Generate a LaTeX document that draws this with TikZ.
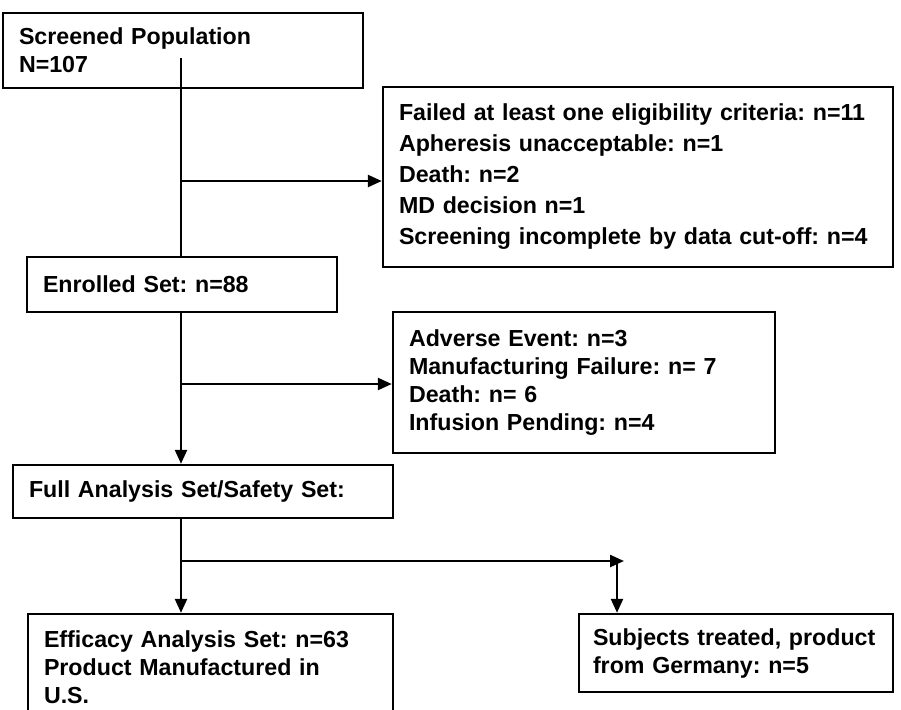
\documentclass[tikz,border=0pt]{standalone}
\usepackage{fontspec}
\setmainfont{Liberation Sans}
\usetikzlibrary{arrows.meta}
\frenchspacing
\tikzset{
  flowbox/.style={draw, line width=1.2pt, inner xsep=8pt, inner ysep=0pt, align=left,
    font=\bfseries\fontsize{11.6}{14}\selectfont},
  flowline/.style={line width=1.2pt},
  flowarrow/.style={line width=1.2pt, -{Triangle[length=7pt,width=6pt]}},
}
\begin{document}
\begin{tikzpicture}[x=0.5pt, y=-0.5pt]
  \useasboundingbox (0,0) rectangle (901,709);
  \clip (0,0) rectangle (901,709);
  % boxes
  \node[flowbox, minimum width=180pt, minimum height=37.5pt, text width=164pt] (scr) at (183,50.5)
    {Screened Population\\N=107};
  \node[flowbox, minimum width=255pt, minimum height=90pt, text width=239pt,
    font=\bfseries\fontsize{11.6}{15.5}\selectfont] (fail) at (638,177)
    {Failed at least one eligibility criteria: n=11\\Apheresis unacceptable: n=1\\Death: n=2\\MD decision n=1\\Screening incomplete by data cut-off: n=4};
  \node[flowbox, minimum width=155pt, minimum height=27.5pt, text width=139pt] (enr) at (182,284.5)
    {Enrolled Set: n=88};
  \node[flowbox, minimum width=191pt, minimum height=70.5pt, text width=175pt] (adv) at (584,382.5)
    {Adverse Event: n=3\\Manufacturing Failure: n= 7\\Death: n= 6\\Infusion Pending: n=4};
  \node[flowbox, minimum width=190pt, minimum height=26.5pt, text width=174pt] (fas) at (203,491.5)
    {Full Analysis Set/Safety Set:};
  \node[flowbox, minimum width=182.5pt, minimum height=53pt, text width=166.5pt] (eff) at (210.5,667)
    {Efficacy Analysis Set: n=63\\Product Manufactured in\\U.S.};
  \node[flowbox, inner xsep=7pt, minimum width=157pt, minimum height=39pt, text width=143pt] (sub) at (736,653)
    {Subjects treated, product\\from Germany: n=5};
  % trunk and branches
  \coordinate (t0) at (181,58);
  \coordinate (b1) at (181,181);
  \coordinate (b2) at (181,384);
  \coordinate (b3) at (181,561);
  \coordinate (b3end) at (624,561);
  \coordinate (b3drop) at (617,561);
  \draw[flowline] (t0) -- (t0 |- enr.north);
  \draw[flowarrow] (b1) -- (b1 -| fail.west);
  \draw[flowarrow] (t0 |- enr.south) -- (t0 |- fas.north);
  \draw[flowarrow] (b2) -- (b2 -| adv.west);
  \draw[flowarrow] (t0 |- fas.south) -- (t0 |- eff.north);
  \draw[flowarrow] (b3) -- (b3end);
  \draw[flowarrow] (b3drop) -- (b3drop |- sub.north);
\end{tikzpicture}
\end{document}
